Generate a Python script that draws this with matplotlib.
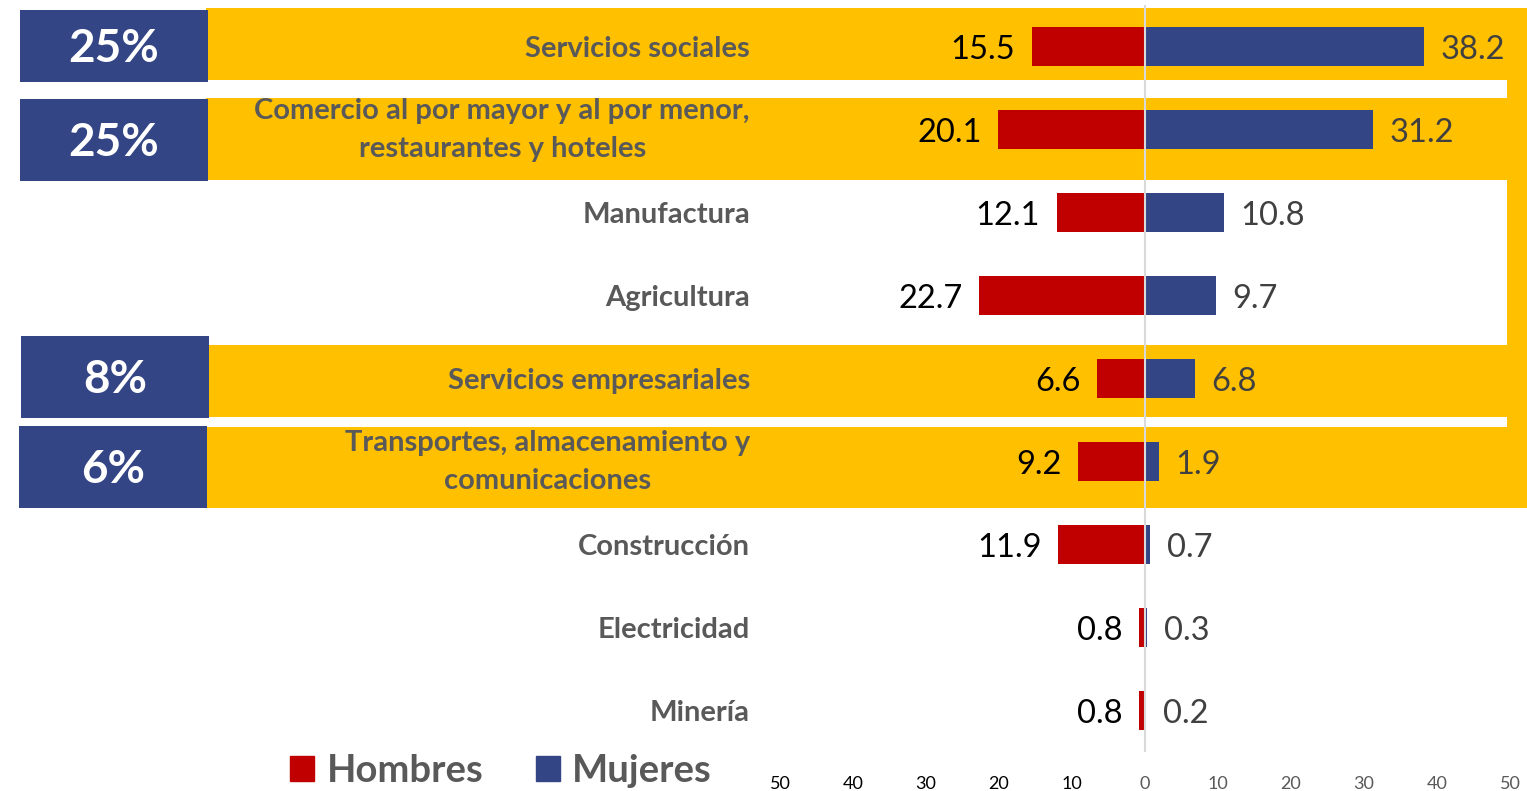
import matplotlib
matplotlib.use('Agg')
import matplotlib.pyplot as plt
from matplotlib.patches import Rectangle, Patch
import numpy as np

categories = ['Servicios sociales',
              'Comercio al por mayor y al por menor,\nrestaurantes y hoteles',
              'Manufactura', 'Agricultura', 'Servicios empresariales',
              'Transportes, almacenamiento y\ncomunicaciones',
              'Construcción', 'Electricidad', 'Minería']
hombres = [15.5, 20.1, 12.1, 22.7, 6.6, 9.2, 11.9, 0.8, 0.8]
mujeres = [38.2, 31.2, 10.8, 9.7, 6.8, 1.9, 0.7, 0.3, 0.2]
shares = ['25%', '25%', '', '', '8%', '6%', '', '', '']
xticks = [-50, -40, -30, -20, -10, 0, 10, 20, 30, 40, 50]
xtick_labels = ['50', '40', '30', '20', '10', '0', '10', '20', '30', '40', '50']

RED = '#C00000'
BLUE = '#334584'
YEL = '#FFC000'
GREY = '#595959'
FONT = 'Lato'

W, H = 1527, 791
fig = plt.figure(figsize=(W / 100, H / 100), dpi=100)
plt.rcParams['font.family'] = [FONT, 'DejaVu Sans']


def rect_px(x0, y0, x1, y1, color, z):
    r = Rectangle((x0 / W, 1 - y1 / H), (x1 - x0) / W, (y1 - y0) / H,
                  transform=fig.transFigure, facecolor=color, edgecolor='none', zorder=z)
    fig.patches.append(r)

# highlight bands (decoration)
bands = {0: (8, 80), 1: (98, 180), 4: (345, 417), 5: (427, 508)}
boxes = {0: (20, 10, 208, 82), 1: (20, 99, 208, 181), 4: (21, 336, 209, 418), 5: (19, 426, 207, 508)}
for i, (y0, y1) in bands.items():
    rect_px(206, y0, 1527, y1, YEL, -3)
rect_px(1507, 8, 1527, 508, YEL, -3)
for i, (x0, y0, x1, y1) in boxes.items():
    rect_px(x0, y0, x1, y1, BLUE, -2)
    fig.text((x0 + x1) / 2 / W, 1 - ((y0 + y1) / 2 + 3) / H, shares[i], color='white',
             fontsize=33, fontweight='bold', ha='center', va='center', zorder=-1)

ax = fig.add_axes([780 / W, 1 - 752 / H, 730 / W, 747 / H])
ax.patch.set_alpha(0)
y = np.arange(len(categories))
h = 0.46
bh = ax.barh(y, [-v for v in hombres], height=h, color=RED, label='Hombres', zorder=2)
bm = ax.barh(y, mujeres, height=h, color=BLUE, label='Mujeres', zorder=2)
ax.axvline(0, color='#d9d9d9', lw=1.5, zorder=3)
ax.set_xlim(-50, 50)
ax.set_ylim(len(categories) - 0.5, -0.5)

for yi, v in zip(y, hombres):
    ax.annotate(f'{v:.1f}', (-v, yi), xytext=(-12, -2.2), textcoords='offset points',
                ha='right', va='center', fontsize=23.5, color='black')
for yi, v in zip(y, mujeres):
    ax.annotate(f'{v:.1f}', (v, yi), xytext=(12, -2.2), textcoords='offset points',
                ha='left', va='center', fontsize=23.5, color='#404040')

# category labels
ax.set_yticks([])
for yi, cat in zip(y, categories):
    dy = -0.5 if '\n' in cat else -1.5
    ax.annotate(cat, xy=(0, yi), xycoords=('axes fraction', 'data'),
                xytext=(-21.6, dy), textcoords='offset points',
                ha='right', va='center', ma='center', linespacing=1.6,
                fontsize=21, fontweight='bold', color=GREY, annotation_clip=False)

ax.set_xticks(xticks)
ax.set_xticklabels(xtick_labels, fontsize=13)
for t, v in zip(ax.get_xticklabels(), xticks):
    t.set_color('black' if v < 0 else GREY)
ax.tick_params(axis='x', length=0, pad=17)
for s in ax.spines.values():
    s.set_visible(False)

fig.legend(handles=[Patch(color=RED), Patch(color=BLUE)], labels=['Hombres', 'Mujeres'],
           loc='center', bbox_to_anchor=(501 / W, 1 - 771 / H), ncol=2, frameon=False,
           prop={'size': 27.5, 'weight': 'bold'}, labelcolor=GREY,
           handlelength=0.63, handleheight=0.63, columnspacing=1.37, handletextpad=0.32,
           borderpad=0, borderaxespad=0)

fig.savefig('out.png', dpi=100)
